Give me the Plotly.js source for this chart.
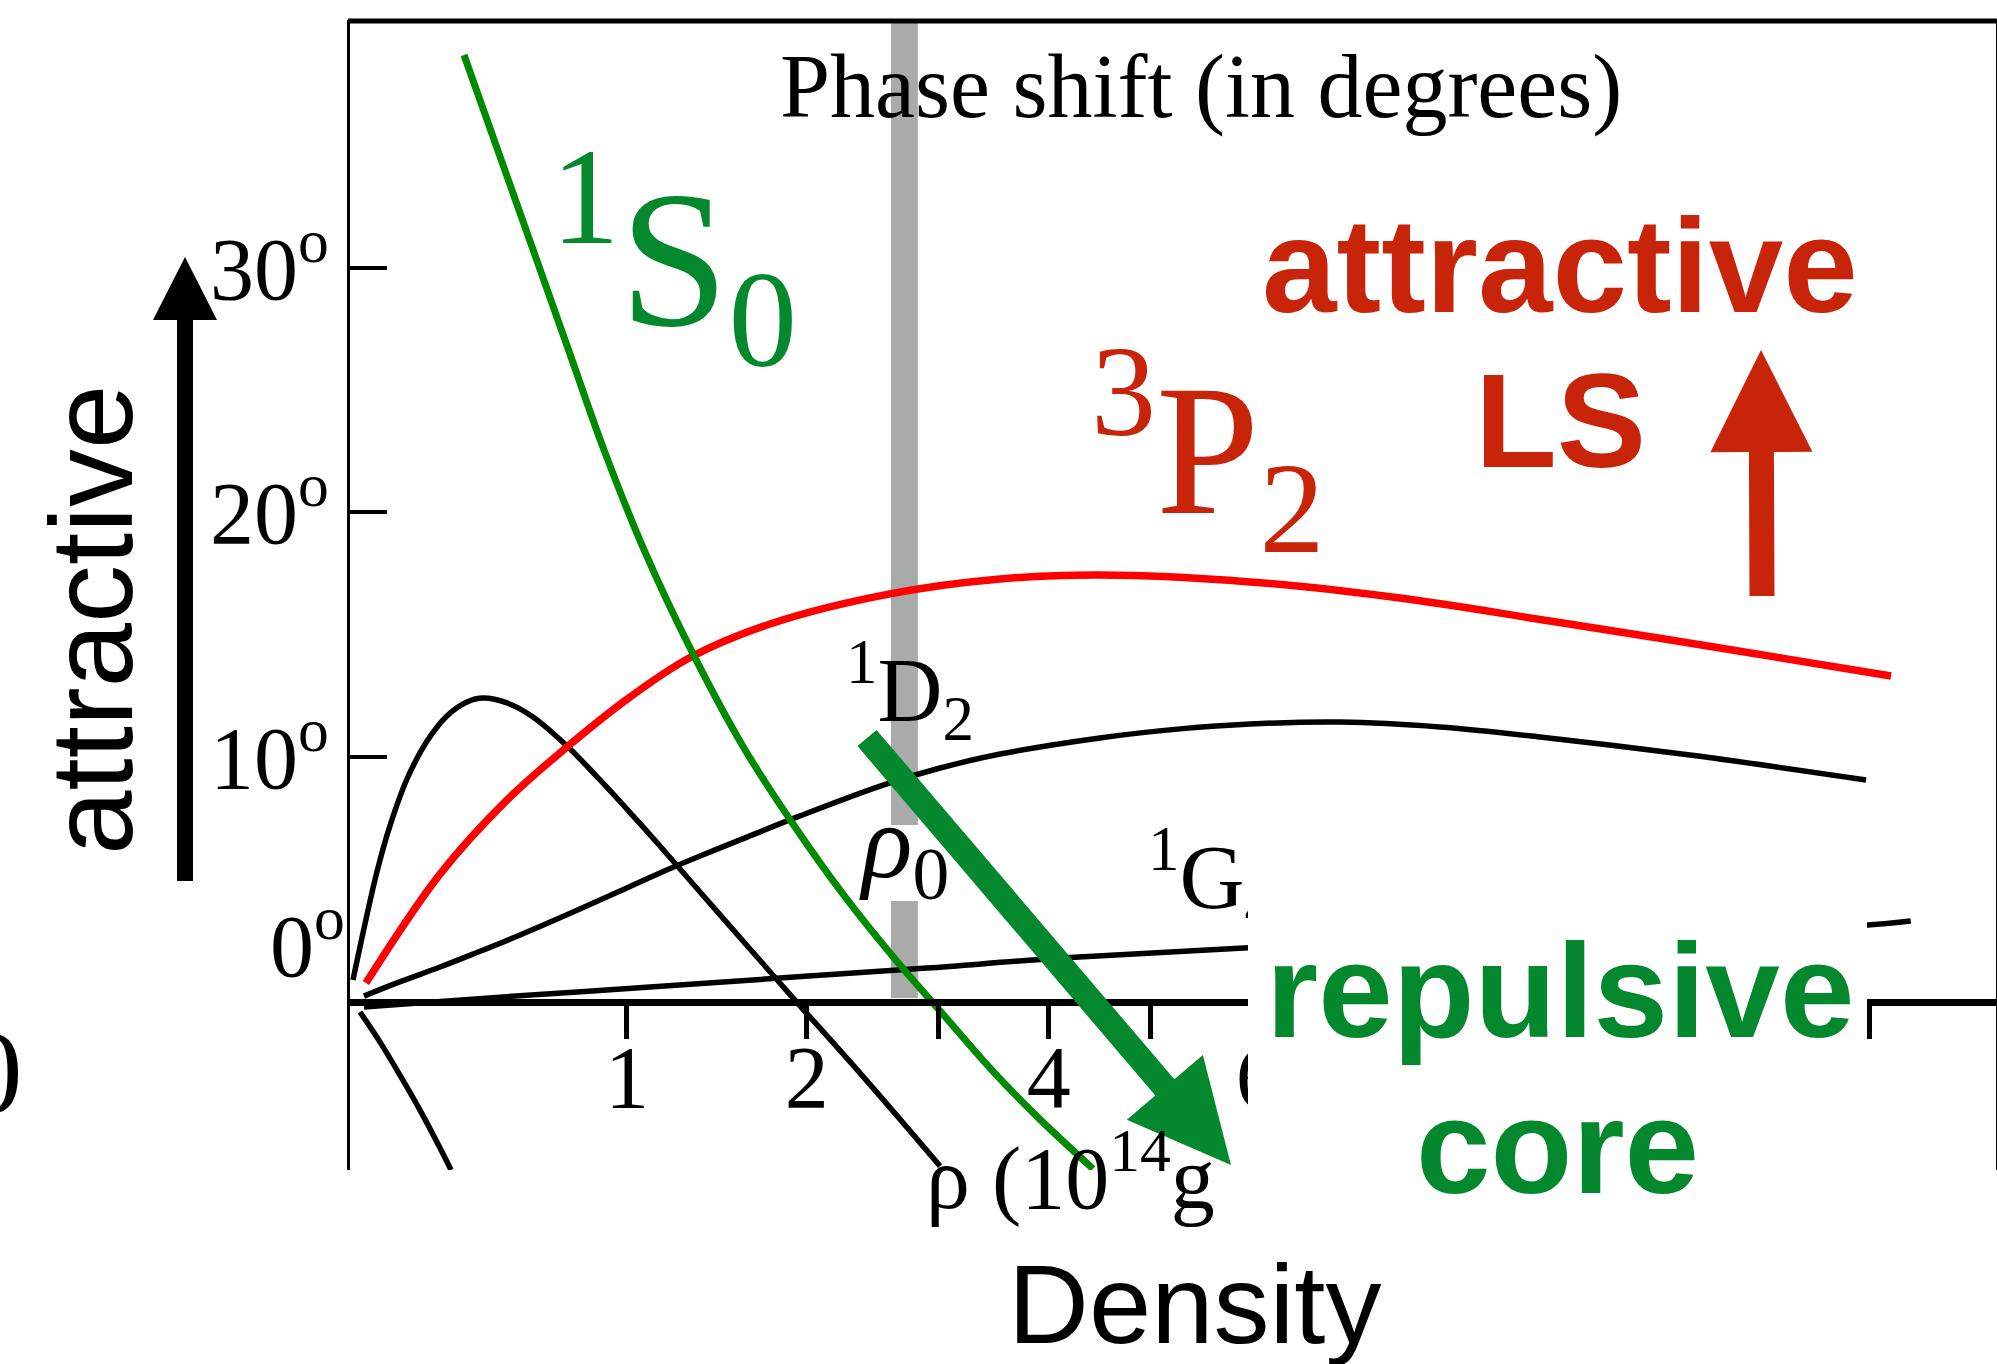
<!DOCTYPE html>
<html>
<head>
<meta charset="utf-8">
<script src="https://cdn.plot.ly/plotly-3.0.1.min.js"></script>
<style>
html,body{margin:0;padding:0;background:#fff;}
#chart{width:1997px;height:1364px;}
</style>
</head>
<body>
<div id="chart"></div>
<script>
// x : position along the (non-linear) density axis, linear plot units 0..100 across the frame
// y : phase shift in degrees

// 1S0 (green)
const s1S0_x = [6.94, 9.13, 11.32, 13.39, 15.46, 17.90, 20.76, 23.98, 27.03, 30.07, 33.06, 36.16, 39.20, 42.00, 45.23];
const s1S0_y = [38.71, 34.56, 30.41, 26.48, 22.56, 18.47, 14.38, 10.37, 7.20, 4.34, 1.83, -0.57, -2.90, -4.82, -6.84];

// 3P2 (red)
const p3P2_x = [0.97, 5.48, 9.56, 13.21, 17.04, 20.76, 25.57, 32.87, 39.57, 45.65, 54.79, 63.92, 73.05, 83.40, 93.81];
const p3P2_y = [0.76, 5.21, 8.24, 10.41, 12.45, 14.09, 15.44, 16.67, 17.28, 17.44, 17.16, 16.50, 15.56, 14.46, 13.31];

// peaked black curve (rises to ~12 deg, then turns repulsive)
const peak_x = [0.18, 0.79, 1.64, 2.43, 3.47, 4.69, 5.90, 7.12, 8.10, 9.56, 11.14, 13.21, 15.22, 17.23, 18.87, 21.31, 24.35, 27.03, 31.05, 35.92];
const peak_y = [0.88, 2.80, 5.30, 7.18, 9.10, 10.65, 11.68, 12.25, 12.41, 12.21, 11.64, 10.45, 9.06, 7.59, 6.36, 4.48, 2.15, 0.10, -2.93, -6.73];

// 1D2 (black)
const d1D2_x = [0.85, 2.86, 5.48, 7.49, 10.35, 13.58, 16.44, 18.87, 21.31, 23.74, 27.39, 32.45, 35.92, 39.57, 45.65, 50.53, 54.79, 60.27, 66.35, 72.44, 81.57, 92.29];
const d1D2_y = [0.22, 0.76, 1.41, 1.94, 2.72, 3.66, 4.52, 5.26, 5.95, 6.61, 7.59, 8.85, 9.55, 10.12, 10.78, 11.15, 11.35, 11.43, 11.23, 10.82, 10.08, 9.06];

// 1G4 (black, nearly flat)
const g1G4_x = [0.85, 9.13, 18.26, 27.02, 35.12, 43.27, 54.41, 69.99, 92.39, 95.01];
const g1G4_y = [-0.22, 0.18, 0.59, 1.00, 1.37, 1.78, 2.19, 2.64, 3.13, 3.29];

// short descending black curve below the axis
const neg_x = [0.61, 1.83, 3.04, 4.26, 5.48, 6.15];
const neg_y = [-0.43, -1.66, -3.01, -4.44, -5.99, -6.89];

// axes
const xTickVals = [16.86, 27.81, 35.85, 42.54, 48.75, 55.26, 92.51];
const xTickText = ['1', '2', '', '4', '', '6', ''];
const yTickVals = [10, 20, 30];
const yTickText = ['10<sup>o</sup>', '20<sup>o</sup>', '30<sup>o</sup>'];
const rho0Pos = 33.75;   // saturation density marker (grey band)

// ---------- page geometry helpers ----------
const L = 350, R = 1996, T = 20, B = 1170;
const W = R - L, H = B - T;
const X = px => (px - L) / W;
const Y = py => (B - py) / H;

function arrowPath(tx, ty, hx, hy, sw, hw, hl) {
  const dx = hx - tx, dy = hy - ty, len = Math.hypot(dx, dy);
  const ux = dx / len, uy = dy / len, nx = -uy, ny = ux;
  const bx = hx - ux * hl, by = hy - uy * hl;
  const pts = [
    [tx + nx * sw / 2, ty + ny * sw / 2],
    [bx + nx * sw / 2, by + ny * sw / 2],
    [bx + nx * hw / 2, by + ny * hw / 2],
    [hx, hy],
    [bx - nx * hw / 2, by - ny * hw / 2],
    [bx - nx * sw / 2, by - ny * sw / 2],
    [tx - nx * sw / 2, ty - ny * sw / 2]
  ];
  return 'M ' + pts.map(p => X(p[0]).toFixed(5) + ',' + Y(p[1]).toFixed(5)).join(' L ') + ' Z';
}

const SERIF = 'Liberation Serif, Times New Roman, serif';
const SANS = 'Liberation Sans, Arial, Helvetica, sans-serif';
const RED = '#c8240a';
const GREEN = '#04882e';

function curve(x, y, color, width) {
  return {x: x, y: y, type: 'scatter', mode: 'lines',
          line: {color: color, width: width, shape: 'spline', smoothing: 1.0},
          hoverinfo: 'skip'};
}

const traces = [
  curve(neg_x, neg_y, '#000', 5.5),
  curve(g1G4_x, g1G4_y, '#000', 5.5),
  curve(d1D2_x, d1D2_y, '#000', 5.5),
  curve(peak_x, peak_y, '#000', 5.5),
  curve(p3P2_x, p3P2_y, '#ff0000', 7.5),
  curve(s1S0_x, s1S0_y, '#008a00', 7),
  {x: [48.58], y: [4.74], type: 'scatter', mode: 'text', text: ['<sup>1</sup>G<sub>4</sub>'],
   textposition: 'middle right', textfont: {family: SERIF, size: 90, color: '#000'},
   cliponaxis: false, hoverinfo: 'skip'}
];

const shapes = [
  // grey rho0 band (interrupted by its label)
  {type: 'rect', xref: 'x', yref: 'paper', x0: rho0Pos - 0.82, x1: rho0Pos + 0.82, y0: Y(825), y1: Y(22),
   fillcolor: '#a8abaa', line: {width: 0}, layer: 'below'},
  {type: 'rect', xref: 'x', yref: 'paper', x0: rho0Pos - 0.82, x1: rho0Pos + 0.82, y0: Y(998), y1: Y(901),
   fillcolor: '#a8abaa', line: {width: 0}, layer: 'below'},
  // white panel behind "repulsive core"
  {type: 'rect', xref: 'paper', yref: 'paper', x0: X(1248), x1: X(1867), y0: Y(1400), y1: Y(850),
   fillcolor: '#ffffff', line: {width: 0}, layer: 'above'},
  // top frame line
  {type: 'line', xref: 'paper', yref: 'paper', x0: X(348), x1: X(2005), y0: Y(21), y1: Y(21),
   line: {color: '#000', width: 5}, layer: 'above'},
  // arrows
  {type: 'path', xref: 'paper', yref: 'paper', path: arrowPath(867, 738, 1231, 1165, 25, 100, 102),
   fillcolor: GREEN, line: {width: 0}, layer: 'above'},
  {type: 'path', xref: 'paper', yref: 'paper', path: arrowPath(1762, 596, 1761, 350, 25, 102, 102),
   fillcolor: RED, line: {width: 0}, layer: 'above'},
  {type: 'path', xref: 'paper', yref: 'paper', path: arrowPath(185, 881, 185, 257, 16, 64, 63),
   fillcolor: '#000', line: {width: 0}, layer: 'above'}
];

function ann(text, px, py, xanchor, font, extra) {
  return Object.assign({text: text, xref: 'paper', yref: 'paper', x: X(px), y: Y(py),
    xanchor: xanchor, yanchor: 'middle', showarrow: false, font: font, borderpad: 0}, extra || {});
}

const annotations = [
  ann('Phase shift (in degrees)', 1201, 86.6, 'center', {family: SERIF, size: 90, color: '#000'}),
  ann('<sup>1</sup>S<sub>0</sub>', 550, 258, 'left', {family: SERIF, size: 196, color: GREEN}),
  ann('<sup>3</sup>P<sub>2</sub>', 1090, 450, 'left', {family: SERIF, size: 186, color: RED}),
  ann('attractive', 1560, 265.6, 'center', {family: SANS, size: 134, color: RED, weight: 700}),
  ann('LS', 1560, 420.6, 'center', {family: SANS, size: 134, color: RED, weight: 700}),
  ann('repulsive', 1560, 990.6, 'center', {family: SANS, size: 134, color: GREEN, weight: 700}),
  ann('core', 1557, 1146.6, 'center', {family: SANS, size: 134, color: GREEN, weight: 700}),
  ann('Density', 1194, 1304, 'center', {family: SANS, size: 112, color: '#000'}),
  ann('attractive', 92, 620, 'center', {family: SANS, size: 116, color: '#000'}, {textangle: -90}),
  ann('<sup>1</sup>D<sub>2</sub>', 845, 690, 'left', {family: SERIF, size: 90, color: '#000'}),
  ann('<i>ρ</i><sub>0</sub>', 904, 849, 'center', {family: SERIF, size: 105, color: '#000'}),
  ann('ρ (10<sup>14</sup>g', 925, 1171, 'left', {family: SERIF, size: 88, color: '#000'}),
  ann('0<sup>o</sup>', 346, 939, 'right', {family: SERIF, size: 88, color: '#000'}),
  ann('0', 24, 1072, 'right', {family: SERIF, size: 117, color: '#000'})
];

const layout = {
  width: 1997, height: 1364,
  margin: {l: L, r: 1997 - R, t: T, b: 1364 - B, pad: 0},
  paper_bgcolor: '#ffffff', plot_bgcolor: '#ffffff',
  showlegend: false,
  xaxis: {
    range: [0, 100.2], anchor: 'free', position: (B - 1001.5) / H,
    showline: true, linewidth: 7.5, linecolor: '#000',
    ticks: 'outside', ticklen: 33, tickwidth: 5, tickcolor: '#000',
    tickmode: 'array', tickvals: xTickVals, ticktext: xTickText,
    tickfont: {family: SERIF, size: 88, color: '#000'}, ticklabelstandoff: -38,
    showgrid: false, zeroline: false, fixedrange: true
  },
  yaxis: {
    range: [-6.89, 40.14],
    showline: true, linewidth: 3.5, linecolor: '#000', mirror: true,
    ticks: 'inside', ticklen: 37, tickwidth: 4, tickcolor: '#000',
    tickmode: 'array', tickvals: yTickVals, ticktext: yTickText,
    tickfont: {family: SERIF, size: 88, color: '#000'},
    showgrid: false, zeroline: false, fixedrange: true
  },
  shapes: shapes,
  annotations: annotations
};

Plotly.newPlot('chart', traces, layout, {displayModeBar: false, staticPlot: true});
</script>
</body>
</html>
